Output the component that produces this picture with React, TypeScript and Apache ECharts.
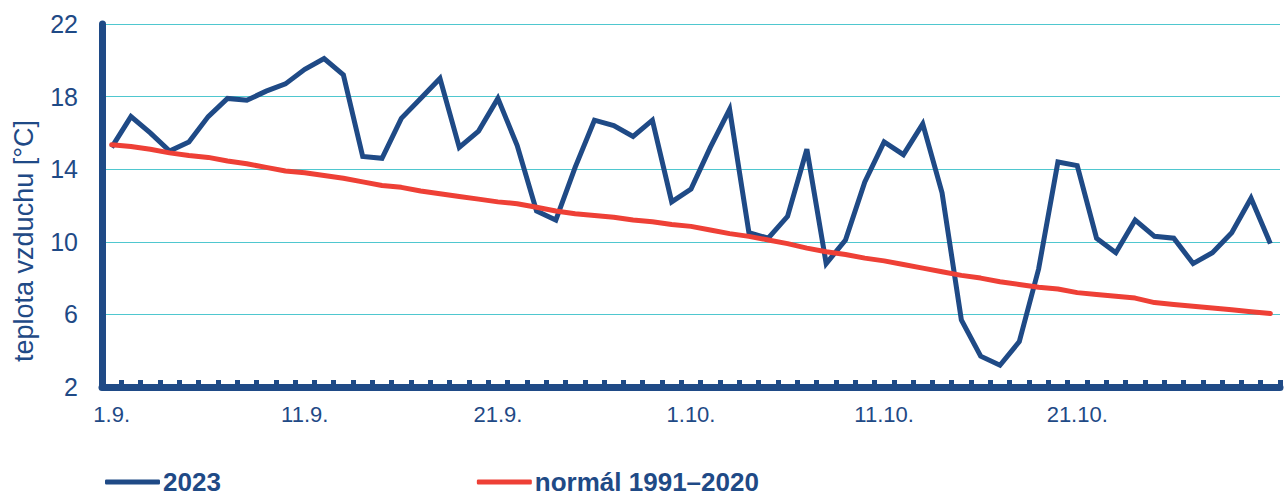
import React, { useEffect, useRef } from "react";
import * as echarts from "echarts";

const days: string[] = [
  "1.9.", "2.9.", "3.9.", "4.9.", "5.9.", "6.9.", "7.9.", "8.9.", "9.9.", "10.9.",
  "11.9.", "12.9.", "13.9.", "14.9.", "15.9.", "16.9.", "17.9.", "18.9.", "19.9.", "20.9.",
  "21.9.", "22.9.", "23.9.", "24.9.", "25.9.", "26.9.", "27.9.", "28.9.", "29.9.", "30.9.",
  "1.10.", "2.10.", "3.10.", "4.10.", "5.10.", "6.10.", "7.10.", "8.10.", "9.10.", "10.10.",
  "11.10.", "12.10.", "13.10.", "14.10.", "15.10.", "16.10.", "17.10.", "18.10.", "19.10.", "20.10.",
  "21.10.", "22.10.", "23.10.", "24.10.", "25.10.", "26.10.", "27.10.", "28.10.", "29.10.", "30.10.",
  "31.10.",
];

const shownLabels: string[] = ["1.9.", "11.9.", "21.9.", "1.10.", "11.10.", "21.10."];

const temp2023: number[] = [
  15.2, 16.9, 16.0, 15.0, 15.5, 16.9, 17.9, 17.8, 18.3, 18.7,
  19.5, 20.1, 19.2, 14.7, 14.6, 16.8, 17.9, 19.0, 15.2, 16.1,
  17.9, 15.3, 11.7, 11.2, 14.1, 16.7, 16.4, 15.8, 16.7, 12.2,
  12.9, 15.2, 17.3, 10.5, 10.2, 11.4, 15.1, 8.8, 10.1, 13.3,
  15.5, 14.8, 16.5, 12.7, 5.7, 3.7, 3.2, 4.5, 8.5, 14.4,
  14.2, 10.2, 9.4, 11.2, 10.3, 10.2, 8.8, 9.4, 10.5, 12.4,
  9.9,
];

const normal: number[] = [
  15.35, 15.25, 15.1, 14.9, 14.75, 14.65, 14.45, 14.3, 14.1, 13.9,
  13.8, 13.65, 13.5, 13.3, 13.1, 13.0, 12.8, 12.65, 12.5, 12.35,
  12.2, 12.1, 11.9, 11.7, 11.55, 11.45, 11.35, 11.2, 11.1, 10.95,
  10.85, 10.65, 10.45, 10.3, 10.1, 9.9, 9.65, 9.45, 9.3, 9.1,
  8.95, 8.75, 8.55, 8.35, 8.15, 8.0, 7.8, 7.65, 7.5, 7.4,
  7.2, 7.1, 7.0, 6.9, 6.65, 6.55, 6.45, 6.35, 6.25, 6.15,
  6.05,
];

const seriesNames: string[] = ["2023", "normál 1991–2020"];
const yAxisTitle = "teplota vzduchu [°C]";

const NAVY = "#1f4a86";
const TEXT = "#1f4a86";
const RED = "#ee4036";
const GRID = "#4fc7cf";
const FONT = "'Liberation Sans', Arial, sans-serif";

export default function App() {
  const ref = useRef<HTMLDivElement>(null);

  useEffect(() => {
    if (!ref.current) return;
    const chart = echarts.init(ref.current, null, { renderer: "svg" });
    chart.setOption({
      animation: false,
      backgroundColor: "#ffffff",
      textStyle: { fontFamily: FONT },
      grid: {
        left: 102,
        right: 5,
        top: 24,
        bottom: 110,
        containLabel: false,
        outerBoundsMode: "none",
      },
      legend: {
        left: 105,
        top: 469,
        padding: 0,
        itemWidth: 55,
        itemHeight: 5,
        itemGap: 256,
        icon: "roundRect",
        data: seriesNames,
        textStyle: { fontFamily: FONT, fontSize: 26, fontWeight: "bold", color: TEXT, padding: [0, 0, 0, -2] },
      },
      graphic: [
        {
          type: "text",
          x: 24,
          y: 241,
          rotation: Math.PI / 2,
          style: {
            text: yAxisTitle,
            fontFamily: FONT,
            fontSize: 27,
            fill: TEXT,
            align: "center",
            verticalAlign: "middle",
          },
        },
      ],
      xAxis: {
        type: "category",
        data: days,
        boundaryGap: true,
        axisLine: { show: true, lineStyle: { color: NAVY, width: 7 } },
        axisTick: {
          show: true,
          inside: true,
          interval: 0,
          length: 7,
          lineStyle: { color: NAVY, width: 5 },
        },
        axisLabel: {
          interval: (_i: number, v: string) => shownLabels.indexOf(v) >= 0,
          margin: 16,
          fontFamily: FONT,
          fontSize: 22,
          color: TEXT,
        },
        splitLine: { show: false },
      },
      yAxis: {
        type: "value",
        min: 2,
        max: 22,
        interval: 4,
        axisLine: { show: true, lineStyle: { color: NAVY, width: 7 } },
        axisTick: { show: false },
        axisLabel: { margin: 24, fontFamily: FONT, fontSize: 25, color: TEXT },
        splitLine: { show: true, lineStyle: { color: GRID, width: 1.2 } },
      },
      series: [
        {
          name: seriesNames[0],
          type: "line",
          data: temp2023,
          showSymbol: false,
          symbol: "none",
          color: NAVY,
          lineStyle: { color: NAVY, width: 5, join: "miter" },
          z: 3,
        },
        {
          name: seriesNames[1],
          type: "line",
          data: normal,
          showSymbol: false,
          symbol: "none",
          color: RED,
          lineStyle: { color: RED, width: 5, cap: "round" },
          z: 4,
        },
      ],
    });
    return () => chart.dispose();
  }, []);

  return (
    <div
      ref={ref}
      style={{ position: "fixed", left: 0, top: 0, width: 1285, height: 497, background: "#fff" }}
    />
  );
}
